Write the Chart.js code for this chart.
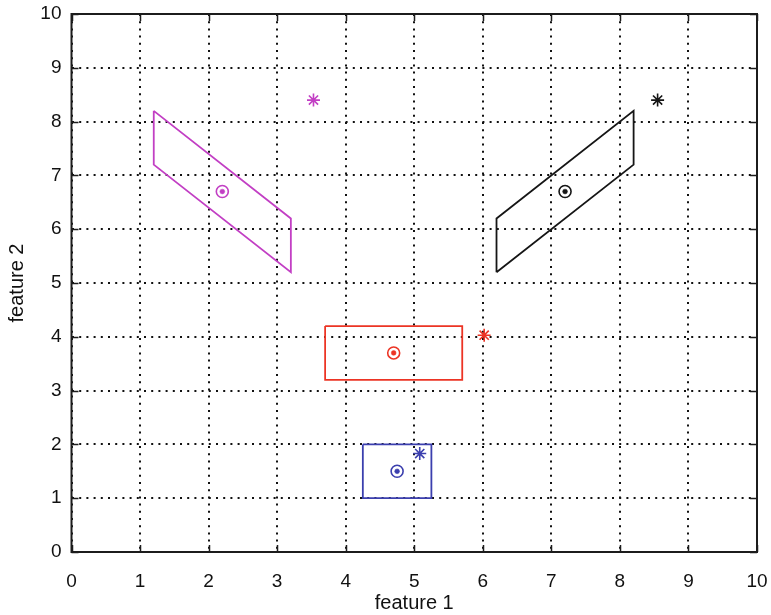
<!DOCTYPE html>
<html>
<head>
<meta charset="utf-8">
<script src="https://cdn.jsdelivr.net/npm/chart.js@4/dist/chart.umd.min.js"></script>
<style>
  html, body { margin: 0; padding: 0; background: #fff; }
  #wrap { width: 771px; height: 615px; position: relative; }
</style>
</head>
<body>
<div id="wrap"><canvas id="chart"></canvas></div>
<script>
// ---- data ----
const ticks = [0, 1, 2, 3, 4, 5, 6, 7, 8, 9, 10];

// class boxes (closed polygons)
const magentaBoxX = [1.2, 1.2, 3.2, 3.2, 1.2];
const magentaBoxY = [8.2, 7.2, 5.2, 6.2, 8.2];
const blackBoxX = [6.2, 6.2, 8.2, 8.2, 6.2];
const blackBoxY = [5.2, 6.2, 8.2, 7.2, 5.2];
const redBoxX = [3.7, 5.7, 5.7, 3.7, 3.7];
const redBoxY = [4.2, 4.2, 3.2, 3.2, 4.2];
const blueBoxX = [4.25, 5.25, 5.25, 4.25, 4.25];
const blueBoxY = [2.0, 2.0, 1.0, 1.0, 2.0];

// centres (circle + dot) and stars, per class: magenta, black, red, blue
const centreX = [2.2, 7.2, 4.7, 4.75];
const centreY = [6.7, 6.7, 3.7, 1.5];
const starX = [3.53, 8.55, 6.02, 5.08];
const starY = [8.4, 8.4, 4.03, 1.83];
const colours = ['#c23fc4', '#161616', '#ec3424', '#3b3fae'];

const pts = (xs, ys) => xs.map((x, i) => ({ x, y: ys[i] }));

const boxes = [
  pts(magentaBoxX, magentaBoxY),
  pts(blackBoxX, blackBoxY),
  pts(redBoxX, redBoxY),
  pts(blueBoxX, blueBoxY),
];

const datasets = [];
boxes.forEach((b, i) => {
  datasets.push({
    data: b, showLine: true, tension: 0, fill: false,
    borderColor: colours[i], borderWidth: 1.8, pointRadius: 0,
  });
});
colours.forEach((c, i) => {
  const p = [{ x: centreX[i], y: centreY[i] }];
  datasets.push({ data: p, pointStyle: 'circle', pointRadius: 6, borderColor: c, borderWidth: 1.6, backgroundColor: 'rgba(0,0,0,0)' });
  datasets.push({ data: p, pointStyle: 'circle', pointRadius: 2.4, borderColor: c, borderWidth: 0.5, backgroundColor: c });
  datasets.push({ data: [{ x: starX[i], y: starY[i] }], pointStyle: 'star', pointRadius: 6.5, borderColor: c, borderWidth: 1.6 });
});

// frame + inward tick marks, like the reference
const framePlugin = {
  id: 'frame',
  afterDraw(chart) {
    const { ctx, chartArea: a, scales: { x, y } } = chart;
    ctx.save();
    ctx.strokeStyle = '#1c1c1c';
    ctx.lineWidth = 1.5;
    const len = 7;
    ctx.beginPath();
    ticks.forEach(v => {
      const px = Math.round(x.getPixelForValue(v)) + 0.5;
      ctx.moveTo(px, a.bottom); ctx.lineTo(px, a.bottom - len);
      ctx.moveTo(px, a.top); ctx.lineTo(px, a.top + len);
      const py = Math.round(y.getPixelForValue(v)) + 0.5;
      ctx.moveTo(a.left, py); ctx.lineTo(a.left + len, py);
      ctx.moveTo(a.right, py); ctx.lineTo(a.right - len, py);
    });
    ctx.stroke();
    ctx.lineWidth = 2;
    ctx.strokeRect(a.left, a.top, a.right - a.left, a.bottom - a.top);
    ctx.restore();
  },
};

const font = 'Liberation Sans, Arial, sans-serif';

new Chart(document.getElementById('chart'), {
  type: 'scatter',
  data: { datasets },
  options: {
    responsive: true, maintainAspectRatio: false, animation: false,
    layout: { padding: { left: 0, right: 14, top: 14, bottom: 0 } },
    plugins: { legend: { display: false }, tooltip: { enabled: false } },
    scales: {
      x: {
        min: 0, max: 10,
        afterFit: s => { s.height = 63; s.paddingLeft = 0; s.paddingRight = 0; },
        ticks: { stepSize: 1, color: '#111', font: { family: font, size: 19 }, padding: 18, maxRotation: 0 },
        grid: { color: '#111', lineWidth: 2, drawTicks: false },
        border: { display: false, dash: [2, 5.2] },
        title: { display: true, text: 'feature 1', color: '#111', font: { family: font, size: 20 }, padding: { top: 0, bottom: 0 } },
      },
      y: {
        min: 0, max: 10,
        afterFit: s => { s.width = 71.5; s.paddingTop = 0; s.paddingBottom = 0; },
        ticks: { stepSize: 1, color: '#111', font: { family: font, size: 19 }, padding: 10 },
        grid: { color: '#111', lineWidth: 2, drawTicks: false },
        border: { display: false, dash: [2, 5.2] },
        title: { display: true, text: 'feature 2', color: '#111', font: { family: font, size: 20 }, padding: { top: 5, bottom: 0 } },
      },
    },
  },
  plugins: [framePlugin],
});
</script>
</body>
</html>
